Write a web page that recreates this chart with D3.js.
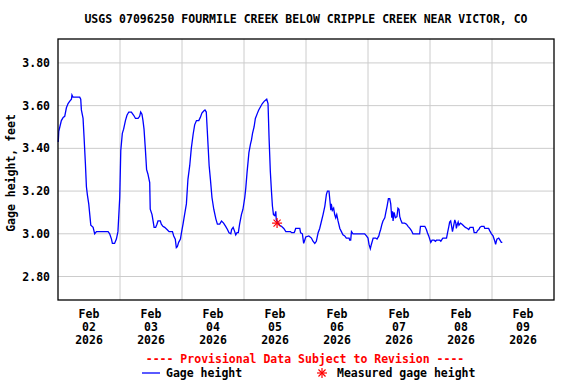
<!DOCTYPE html>
<html>
<head>
<meta charset="utf-8">
<script src="https://cdn.jsdelivr.net/npm/d3@7"></script>
<style>
  body { margin: 0; background: #fff; }
  svg { display: block; }
</style>
</head>
<body>
<svg width="576" height="384" font-family="DejaVu Sans Mono, monospace" font-weight="bold" font-size="11.5"></svg>
<script>
// chart values

var title = "USGS 07096250 FOURMILE CREEK BELOW CRIPPLE CREEK NEAR VICTOR, CO";
var yLabel = "Gage height, feet";
var provisional = "---- Provisional Data Subject to Revision ----";
var seriesName = "Gage height";
var measuredName = "Measured gage height";

// hours after Feb 02 2026 00:00
var gageHours = [
  0.1, 0.3, 0.7, 1.3, 2.0, 2.6, 3.25, 3.9, 4.5, 5.2, 5.4, 5.8, 6.2, 8.4, 8.8, 9.05, 9.7, 10.1, 10.6, 11.0,
  11.4, 11.9, 12.3, 12.7, 13.6, 14.2, 14.9, 19.4, 20.0, 20.7, 21.05, 21.9, 22.6, 23.2, 23.9, 24.3, 24.9, 25.4, 26.1, 26.7,
  27.4, 28.4, 29.3, 30.0, 31.0, 31.6, 32.0, 32.5, 32.9, 33.3, 33.8, 34.3, 34.8,
  35.5, 35.7, 36.4, 36.8, 37.2, 37.8, 38.3, 38.7, 39.6, 40.0, 40.6, 41.3, 42.2, 43.0, 44.3, 44.8, 45.4, 45.8, 46.2, 46.7,
  47.4, 47.8, 48.4, 49.0, 49.7, 50.3, 51.0, 51.6, 52.3, 52.9, 53.6, 54.5, 55.1, 55.7, 56.4, 56.9, 57.4, 57.8, 58.5, 59.0,
  59.6, 60.3, 61.1, 61.7, 62.6, 63.3, 64.1, 64.9, 65.6, 66.2, 66.9, 67.2, 67.8, 68.4, 68.8, 69.3, 69.8, 70.3, 71.0, 71.6,
  72.3, 72.7, 73.2, 73.6, 73.9, 74.5, 74.9, 75.3, 75.9, 76.4, 77.2, 77.7, 78.4, 79.1, 79.8, 80.3, 80.8, 81.3, 81.7, 82.2,
  82.6, 83.0, 83.4, 83.9, 84.3, 84.5, 85.2, 85.8, 86.5, 87.4, 88.2, 90.0, 90.4, 91.4, 91.6, 92.0, 93.6, 93.9, 94.6, 95.1,
  95.5, 95.9, 97.1, 98.1, 98.7, 99.4, 100.0, 100.7, 101.3, 102.0, 102.6, 103.3, 103.9, 104.3, 104.9, 105.3, 105.6, 105.8, 106.2, 106.7,
  107.1, 107.5, 107.9, 108.4,
  109.1, 109.7, 110.3, 111.0, 111.6, 112.7, 112.9, 113.3, 113.6, 114.2, 118.7, 119.4, 120.0, 120.4, 120.9, 121.3, 122.0, 123.0, 123.5, 124.2,
  124.5, 124.9, 125.4, 125.8, 126.5, 126.9, 127.4, 127.9, 128.4, 128.8, 129.2, 129.5, 129.7, 130.1, 130.6, 131.2, 131.6, 132.0, 132.3, 132.7,
  133.2, 134.2, 134.9, 135.5, 136.2, 136.8, 137.4, 140.0, 140.3, 142.0,
  142.6, 143.0, 143.5, 143.9, 144.3, 144.8, 145.6, 146.1, 146.5, 147.8, 148.2, 148.7, 149.0, 150.4, 150.8, 151.3, 151.6, 152.0, 152.3, 152.7,
  153.2, 153.6, 154.0, 154.2, 154.6, 154.9, 155.2, 155.8, 156.4, 157.2, 157.7, 158.5, 159.0, 159.5, 160.7, 161.1, 162.0, 162.4, 162.9, 163.3,
  163.9, 164.9, 165.2, 166.7, 167.1, 167.8, 168.4, 169.1, 169.4, 169.9, 170.6, 171.1, 171.6, 172.0
];

var gageFeet = [
  3.43, 3.48, 3.50, 3.53, 3.545, 3.55, 3.59, 3.61, 3.62, 3.63, 3.65, 3.64, 3.64, 3.64, 3.63, 3.58, 3.54, 3.45, 3.33, 3.22,
  3.18, 3.14, 3.09, 3.04, 3.03, 3.00, 3.01, 3.01, 3.00, 2.975, 2.955, 2.955, 2.975, 3.01, 3.17, 3.39, 3.47, 3.49, 3.53, 3.555,
  3.57, 3.57, 3.555, 3.54, 3.54, 3.55, 3.57, 3.56, 3.53, 3.49, 3.40, 3.30, 3.28,
  3.24, 3.115, 3.09, 3.06, 3.03, 3.03, 3.045, 3.06, 3.06, 3.045, 3.035, 3.03, 3.02, 3.01, 3.01, 2.99, 2.975, 2.935, 2.94, 2.96,
  2.975, 3.005, 3.045, 3.09, 3.14, 3.255, 3.32, 3.40, 3.465, 3.51, 3.53, 3.53, 3.545, 3.565, 3.575, 3.58, 3.57, 3.48, 3.32, 3.255,
  3.17, 3.115, 3.07, 3.045, 3.045, 3.06, 3.05, 3.035, 3.02, 3.005, 3.00, 3.02, 3.03, 3.01, 2.995, 3.005, 3.005, 3.045, 3.09, 3.115,
  3.17, 3.215, 3.29, 3.34, 3.38, 3.42, 3.44, 3.47, 3.50, 3.54, 3.565, 3.58, 3.595, 3.61, 3.62, 3.625, 3.63, 3.61, 3.45, 3.29,
  3.205, 3.13, 3.09, 3.085, 3.105, 3.065, 3.05, 3.04, 3.035, 3.025, 3.01, 3.01, 3.005, 3.005, 3.01, 3.025, 3.025, 3.005, 3.00, 2.955,
  2.97, 2.985, 2.99, 2.98, 2.965, 2.955, 2.965, 3.005, 3.025, 3.06, 3.09, 3.13, 3.185, 3.20, 3.20, 3.15, 3.11, 3.14, 3.11, 3.12,
  3.09, 3.075, 3.09, 3.06,
  3.025, 3.01, 2.995, 2.99, 2.98, 2.98, 2.97, 2.97, 3.01, 3.00, 3.00, 2.99, 2.98, 2.95, 2.93, 2.95, 2.98, 2.98, 2.975, 2.99,
  3.005, 3.02, 3.045, 3.06, 3.075, 3.10, 3.13, 3.165, 3.165, 3.14, 3.075, 3.105, 3.06, 3.10, 3.075, 3.08, 3.12, 3.115, 3.08, 3.065,
  3.05, 3.05, 3.045, 3.035, 3.025, 3.015, 3.00, 3.00, 3.035, 3.035,
  3.02, 3.005, 2.99, 2.975, 2.96, 2.97, 2.97, 2.965, 2.97, 2.97, 2.965, 2.975, 2.98, 2.98, 3.005, 3.035, 3.055, 3.06, 3.04, 3.01,
  3.04, 3.065, 3.05, 3.025, 3.045, 3.055, 3.04, 3.05, 3.045, 3.035, 3.03, 3.025, 3.02, 3.03, 3.03, 3.005, 3.005, 3.015, 3.02, 3.03,
  3.035, 3.035, 3.025, 3.025, 3.015, 3.00, 2.99, 2.965, 2.95, 2.975, 2.98, 2.97, 2.96, 2.96
];

// field measurement
var measuredHours = [84.8];
var measuredFeet = [3.05];

var yTicks = [2.80, 3.00, 3.20, 3.40, 3.60, 3.80];
var dayLabels = ["2026-02-02", "2026-02-03", "2026-02-04", "2026-02-05", "2026-02-06", "2026-02-07", "2026-02-08", "2026-02-09"];

// set up

var svg = d3.select("svg"),
  margin = { top: 39, right: 22, bottom: 84, left: 58 },
  width = +svg.attr("width"),
  height = +svg.attr("height");

const innerWidth = width - margin.left - margin.right;
const innerHeight = height - margin.top - margin.bottom;

var parseDay = d3.timeParse("%Y-%m-%d");
var start = parseDay(dayLabels[0]);
var toDate = h => new Date(start.getTime() + h * 3600 * 1000);

var days = dayLabels.map(parseDay);
var noons = days.map(d => d3.timeHour.offset(d, 12));
var midnights = days.slice(1);

var data = gageHours.map((h, i) => ({ t: toDate(h), v: gageFeet[i] }));
var measured = measuredHours.map((h, i) => ({ t: toDate(h), v: measuredFeet[i] }));

const xScale = d3.scaleTime()
  .domain([start, d3.timeDay.offset(start, 8)])
  .range([0, innerWidth]);

const yScale = d3.scaleLinear()
  .domain([2.69, 3.912])
  .range([innerHeight, 0]);

const g = svg.append("g")
  .attr("transform", "translate(" + margin.left + "," + margin.top + ")");

// grid lines
g.append("g")
  .selectAll("line")
  .data(yTicks)
  .enter()
  .append("line")
  .attr("x1", 0).attr("x2", innerWidth)
  .attr("y1", d => yScale(d)).attr("y2", d => yScale(d))
  .attr("stroke", "#cccccc");

g.append("g")
  .selectAll("line")
  .data(midnights)
  .enter()
  .append("line")
  .attr("x1", d => xScale(d)).attr("x2", d => xScale(d))
  .attr("y1", 0).attr("y2", innerHeight)
  .attr("stroke", "#cccccc");

// y tick labels
g.append("g")
  .selectAll("text")
  .data(yTicks)
  .enter()
  .append("text")
  .attr("x", -8)
  .attr("y", d => yScale(d))
  .attr("dy", "0.35em")
  .attr("text-anchor", "end")
  .attr("fill", "#000")
  .text(d3.format(".2f"));

// x tick labels, three lines each
var fmts = [d3.timeFormat("%b"), d3.timeFormat("%d"), d3.timeFormat("%Y")];
var xLab = g.append("g")
  .attr("transform", "translate(0," + innerHeight + ")")
  .selectAll("g")
  .data(noons)
  .enter()
  .append("g")
  .attr("transform", d => "translate(" + xScale(d) + ",0)");
fmts.forEach((f, i) => {
  xLab.append("text")
    .attr("y", 14 + i * 13)
    .attr("dy", "0.35em")
    .attr("text-anchor", "middle")
    .attr("fill", "#000")
    .text(d => f(d));
});

// line
const line = d3.line()
  .x(d => xScale(d.t))
  .y(d => yScale(d.v));

g.append("path")
  .datum(data)
  .attr("fill", "none")
  .attr("stroke", "#0000ff")
  .attr("stroke-width", 1.3)
  .attr("d", line);

// asterisk marker
function asterisk(sel, r) {
  [0, 45, 90, 135].forEach(a => {
    var rad = a * Math.PI / 180;
    sel.append("line")
      .attr("x1", -r * Math.cos(rad)).attr("y1", -r * Math.sin(rad))
      .attr("x2", r * Math.cos(rad)).attr("y2", r * Math.sin(rad))
      .attr("stroke", "#ff0000")
      .attr("stroke-width", 1.2);
  });
}

g.selectAll(".meas")
  .data(measured)
  .enter()
  .append("g")
  .attr("class", "meas")
  .attr("transform", d => "translate(" + xScale(d.t) + "," + yScale(d.v) + ")")
  .each(function() { asterisk(d3.select(this), 5); });

// frame
g.append("rect")
  .attr("width", innerWidth)
  .attr("height", innerHeight)
  .attr("fill", "none")
  .attr("stroke", "#000")
  .attr("stroke-width", 1.3);

// title
svg.append("text")
  .attr("x", margin.left + innerWidth / 2)
  .attr("y", 19)
  .attr("dy", "0.35em")
  .attr("text-anchor", "middle")
  .attr("fill", "#000")
  .text(title);

// y label
svg.append("text")
  .attr("transform", "translate(11,173) rotate(-90)")
  .attr("dy", "0.35em")
  .attr("text-anchor", "middle")
  .attr("fill", "#000")
  .text(yLabel);

// provisional note
svg.append("text")
  .attr("x", 305)
  .attr("y", 359)
  .attr("dy", "0.35em")
  .attr("text-anchor", "middle")
  .attr("fill", "#ff0000")
  .text(provisional);

// legend
var legend = svg.append("g").attr("transform", "translate(0,373)");
legend.append("line")
  .attr("x1", 142).attr("x2", 160)
  .attr("stroke", "#0000ff")
  .attr("stroke-width", 1.3);
legend.append("text")
  .attr("x", 166)
  .attr("dy", "0.35em")
  .attr("fill", "#000")
  .text(seriesName);
legend.append("g")
  .attr("transform", "translate(322,0)")
  .call(s => asterisk(s, 5));
legend.append("text")
  .attr("x", 337)
  .attr("dy", "0.35em")
  .attr("fill", "#000")
  .text(measuredName);
</script>
</body>
</html>
